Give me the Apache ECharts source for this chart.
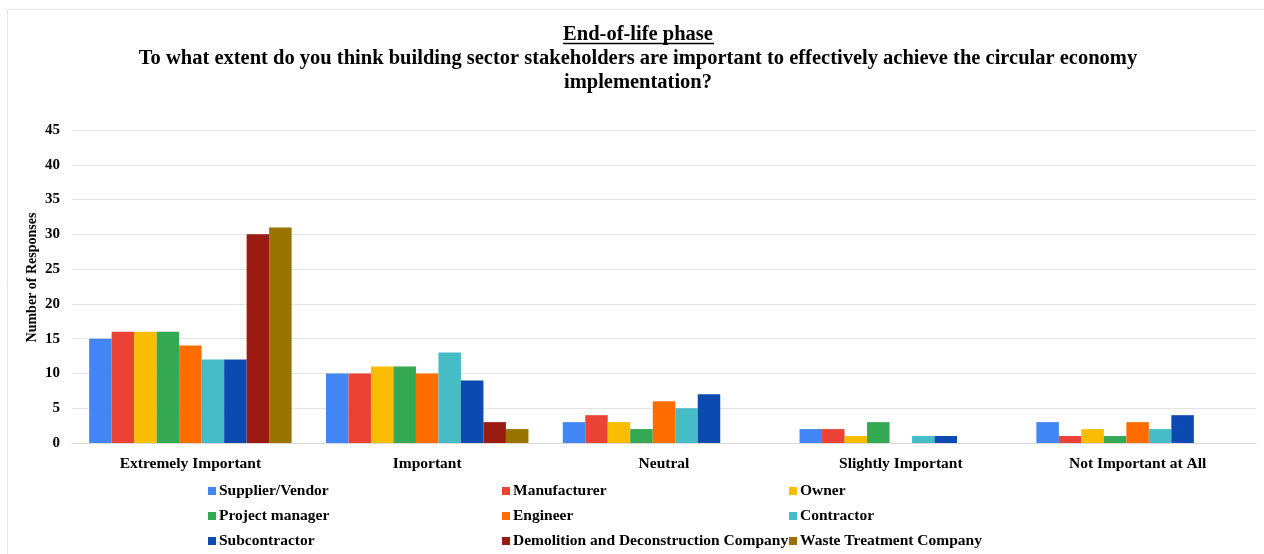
<!DOCTYPE html>
<html>
<head>
<meta charset="utf-8">
<script src="https://cdn.jsdelivr.net/npm/echarts@6/dist/echarts.min.js"></script>
<style>
  html, body { margin: 0; padding: 0; background: #fff; }
  #chart { width: 1264px; height: 554px; }
</style>
</head>
<body>
<div id="chart"></div>
<script>
// Response categories along the x axis
const categories = ['Extremely Important', 'Important', 'Neutral', 'Slightly Important', 'Not Important at All'];

// Stakeholder groups (one bar series each)
const stakeholders = [
  'Supplier/Vendor', 'Manufacturer', 'Owner',
  'Project manager', 'Engineer', 'Contractor',
  'Subcontractor', 'Demolition and Deconstruction Company', 'Waste Treatment Company'
];

// Number of responses per stakeholder, in category order
const supplierVendor   = [15, 10, 3, 2, 3];
const manufacturer     = [16, 10, 4, 2, 1];
const owner            = [16, 11, 3, 1, 2];
const projectManager   = [16, 11, 2, 3, 1];
const engineer         = [14, 10, 6, 0, 3];
const contractor       = [12, 13, 5, 1, 2];
const subcontractor    = [12, 9, 7, 1, 4];
const demolitionCo     = [30, 3, 0, 0, 0];
const wasteTreatmentCo = [31, 2, 0, 0, 0];

const seriesValues = [
  supplierVendor, manufacturer, owner,
  projectManager, engineer, contractor,
  subcontractor, demolitionCo, wasteTreatmentCo
];

const colors = ['#4285F4', '#EA4335', '#FBBC04', '#34A853', '#FF6D01', '#46BDC6', '#0B4AB0', '#9B1B12', '#987300'];

const font = '"Liberation Serif", "Times New Roman", serif';

const chart = echarts.init(document.getElementById('chart'), null, { renderer: 'canvas' });

// Three legend columns, three rows each
const legendBase = {
  orient: 'vertical',
  top: 483,
  height: 72,
  itemWidth: 8,
  itemHeight: 8,
  itemGap: 9,
  icon: 'rect',
  padding: 0,
  textStyle: { fontFamily: font, fontWeight: 'bold', fontSize: 15.5, lineHeight: 16, color: '#000', padding: [0, 0, 0, -2] }
};

chart.setOption({
  animation: false,
  color: colors,
  title: {
    text: 'End-of-life phase',
    subtext: 'To what extent do you think building sector stakeholders are important to effectively achieve the circular economy\nimplementation?',
    left: 633,
    textAlign: 'center',
    top: 19,
    itemGap: 2,
    textStyle: { fontFamily: font, fontWeight: 'bold', fontSize: 20.5, color: '#000' },
    subtextStyle: { fontFamily: font, fontWeight: 'bold', fontSize: 20.5, color: '#000', lineHeight: 24, align: 'center' }
  },
  graphic: [
    {
      type: 'rect',
      shape: { x: 7.5, y: 9.5, width: 1300, height: 600 },
      style: { fill: 'none', stroke: '#e6e6e6', lineWidth: 1 },
      silent: true
    },
    {
      type: 'line',
      shape: { x1: 563, y1: 43.5, x2: 714, y2: 43.5 },
      style: { stroke: '#000', lineWidth: 1.3 },
      silent: true
    }
  ],
  legend: [
    Object.assign({}, legendBase, { left: 208, data: [stakeholders[0], stakeholders[3], stakeholders[6]] }),
    Object.assign({}, legendBase, { left: 502, data: [stakeholders[1], stakeholders[4], stakeholders[7]] }),
    Object.assign({}, legendBase, { left: 789, data: [stakeholders[2], stakeholders[5], stakeholders[8]] })
  ],
  grid: { left: 72, right: 8, top: 130, bottom: 111, containLabel: false },
  xAxis: {
    type: 'category',
    data: categories,
    axisTick: { show: false },
    axisLine: { lineStyle: { color: '#d9d9d9' } },
    axisLabel: { fontFamily: font, fontWeight: 'bold', fontSize: 15.5, color: '#000', margin: 13 }
  },
  yAxis: {
    type: 'value',
    min: 0,
    max: 45,
    interval: 5,
    name: 'Number of Responses',
    nameLocation: 'middle',
    nameGap: 33,
    nameMoveOverlap: false,
    nameTextStyle: { fontFamily: font, fontWeight: 'bold', fontSize: 14, color: '#000', padding: [0, 0, 0, 18] },
    axisLine: { show: false },
    axisTick: { show: false },
    splitLine: { lineStyle: { color: '#e3e3e3' } },
    axisLabel: { fontFamily: font, fontWeight: 'bold', fontSize: 15, color: '#000', margin: 12 }
  },
  series: stakeholders.map((name, i) => ({
    name: name,
    type: 'bar',
    data: seriesValues[i],
    barGap: '0%',
    barCategoryGap: '14.5%'
  }))
});
</script>
</body>
</html>
